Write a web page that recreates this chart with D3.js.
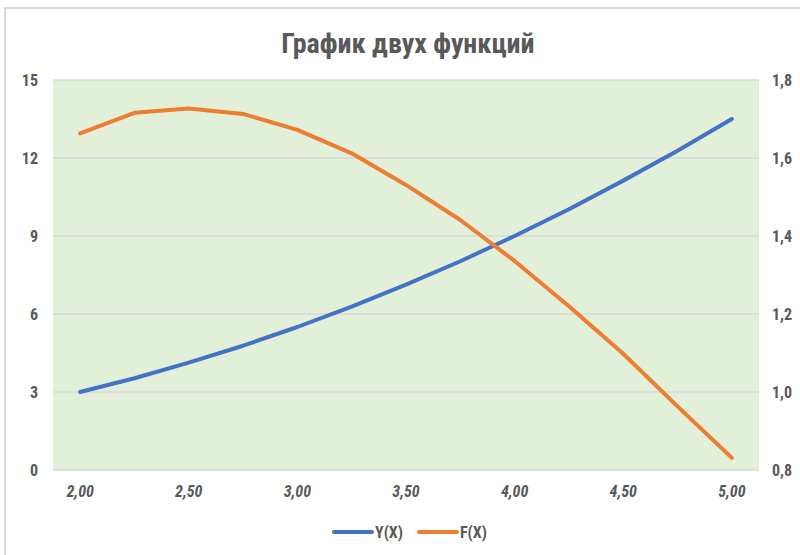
<!DOCTYPE html>
<html>
<head>
<meta charset="utf-8">
<script src="https://cdn.jsdelivr.net/npm/d3@7"></script>
<style>
  html, body { margin: 0; padding: 0; background: #ffffff; }
  svg { display: block; }
  text { font-family: "Liberation Sans Narrow", "Roboto Condensed", "Open Sans", sans-serif; }
</style>
</head>
<body>
<svg id="chart" width="800" height="555"></svg>
<script>
// Аргумент X (категории оси X)
const xValues = [2.00, 2.25, 2.50, 2.75, 3.00, 3.25, 3.50, 3.75, 4.00, 4.25, 4.50, 4.75, 5.00];
// Y(X) — основная ось
const yValues = [3.00, 3.53, 4.13, 4.78, 5.50, 6.28, 7.13, 8.03, 9.00, 10.03, 11.13, 12.28, 13.50];
// F(X) — вспомогательная ось
const fValues = [1.663, 1.716, 1.727, 1.713, 1.672, 1.612, 1.531, 1.441, 1.336, 1.220, 1.098, 0.963, 0.831];
// Деления осей
const leftTicks = [0, 3, 6, 9, 12, 15];
const rightTicks = [0.8, 1.0, 1.2, 1.4, 1.6, 1.8];
const seriesNames = ["Y(X)", "F(X)"];
const seriesColors = ["#4472c4", "#ed7d31"];

const svg = d3.select("#chart");
const plot = { left: 53, right: 759, top: 80, bottom: 470 };
const fmt = v => d3.format(".2f")(v).replace(".", ",");
const fmtR = v => d3.format(".1f")(v).replace(".", ",");

// Рамка диаграммы
svg.append("rect")
  .attr("x", 5).attr("y", 8).attr("width", 820).attr("height", 580)
  .attr("fill", "#ffffff").attr("stroke", "#d9d9d9").attr("stroke-width", 2);

// Заголовок
svg.append("text")
  .attr("x", 408).attr("y", 53)
  .attr("text-anchor", "middle")
  .attr("font-size", 28).attr("font-weight", "bold")
  .attr("fill", "#595959")
  .text("График двух функций");

const x = d3.scaleBand().domain(xValues).range([plot.left, plot.right]);
const xc = v => x(v) + x.bandwidth() / 2;
const yL = d3.scaleLinear().domain([0, 15]).range([plot.bottom, plot.top]);
const yR = d3.scaleLinear().domain([0.8, 1.8]).range([plot.bottom, plot.top]);

// Фон области построения
svg.append("rect")
  .attr("x", plot.left).attr("y", plot.top)
  .attr("width", plot.right - plot.left).attr("height", plot.bottom - plot.top)
  .attr("fill", "#e2efd9");

// Линии сетки
svg.append("g")
  .selectAll("line").data(leftTicks).join("line")
  .attr("x1", plot.left).attr("x2", plot.right)
  .attr("y1", d => yL(d)).attr("y2", d => yL(d))
  .attr("stroke", "#d9d9d9").attr("stroke-width", 1.5);

// Левая ось
const axL = svg.append("g")
  .attr("transform", `translate(${plot.left},0)`)
  .call(d3.axisLeft(yL).tickValues(leftTicks).tickSize(0).tickPadding(15));
axL.select(".domain").remove();
axL.selectAll("text")
  .attr("font-size", 16).attr("font-weight", "bold").attr("fill", "#595959");

// Правая ось
const axR = svg.append("g")
  .attr("transform", `translate(${plot.right},0)`)
  .call(d3.axisRight(yR).tickValues(rightTicks).tickFormat(fmtR).tickSize(0).tickPadding(13));
axR.select(".domain").remove();
axR.selectAll("text")
  .attr("font-size", 16).attr("font-weight", "bold").attr("fill", "#595959");

// Ось X: подписи через одну категорию
const axX = svg.append("g")
  .attr("transform", `translate(0,${plot.bottom})`)
  .call(d3.axisBottom(x).tickValues(xValues.filter((d, i) => i % 2 === 0))
    .tickFormat(fmt).tickSize(0).tickPadding(16));
axX.select(".domain").remove();
axX.selectAll("text")
  .attr("font-size", 16).attr("font-weight", "bold").attr("font-style", "italic")
  .attr("fill", "#595959");

svg.selectAll(".tick text").attr("font-family", null);

// Линии функций
const lineY = d3.line().x((d, i) => xc(xValues[i])).y(d => yL(d));
const lineF = d3.line().x((d, i) => xc(xValues[i])).y(d => yR(d));

svg.append("path").datum(yValues)
  .attr("d", lineY).attr("fill", "none")
  .attr("stroke", seriesColors[0]).attr("stroke-width", 4)
  .attr("stroke-linejoin", "round").attr("stroke-linecap", "round");

svg.append("path").datum(fValues)
  .attr("d", lineF).attr("fill", "none")
  .attr("stroke", seriesColors[1]).attr("stroke-width", 4)
  .attr("stroke-linejoin", "round").attr("stroke-linecap", "round");

// Легенда
const legendX = [334, 419];
const lg = svg.append("g").selectAll("g").data(seriesNames).join("g")
  .attr("transform", (d, i) => `translate(${legendX[i]},532)`);
lg.append("line")
  .attr("x1", 0).attr("x2", 38).attr("y1", 0).attr("y2", 0)
  .attr("stroke", (d, i) => seriesColors[i]).attr("stroke-width", 4)
  .attr("stroke-linecap", "round");
lg.append("text")
  .attr("x", 41).attr("y", 6)
  .attr("font-size", 16).attr("font-weight", "bold").attr("fill", "#595959")
  .text(d => d);
</script>
</body>
</html>
